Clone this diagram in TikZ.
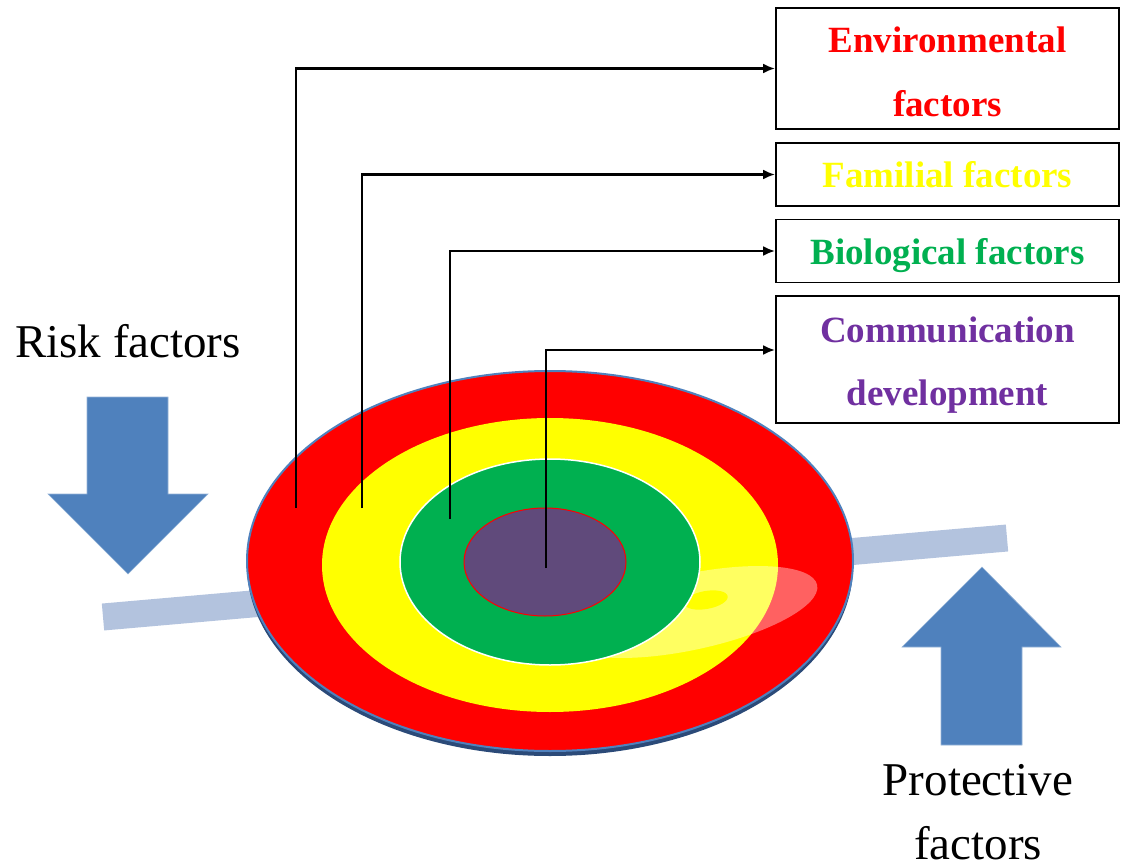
\documentclass[tikz,border=0pt]{standalone}
\usepackage{fontspec}
\setmainfont{Liberation Serif}
\usetikzlibrary{arrows.meta}
\definecolor{arrowblue}{HTML}{4F81BD}
\definecolor{barblue}{HTML}{B3C3DE}
\definecolor{ringred}{HTML}{FF0000}
\definecolor{ringyellow}{HTML}{FFFF00}
\definecolor{ringgreen}{HTML}{00B050}
\definecolor{corepurple}{HTML}{604A7B}
\definecolor{txtpurple}{HTML}{7030A0}
\definecolor{shadowblue}{HTML}{2B4A78}
\begin{document}
\begin{tikzpicture}[x=1pt,y=-1pt,
  factorbox/.style={draw=black, line width=1.8pt, minimum width=343pt, minimum height=#1, inner sep=0pt},
  boxtext/.style={anchor=base, inner sep=0pt, font=\fontsize{37}{44}\selectfont\bfseries},
  bigtext/.style={anchor=base, inner sep=0pt, font=\fontsize{47}{56}\selectfont},
  conn/.style={draw=black, line width=2.2pt, -{Latex[length=12pt,width=10pt]}},
  bigarrow/.style={fill=arrowblue, draw=arrowblue!60!white, line width=0.6pt}]
\useasboundingbox (0,0) rectangle (1128,867);

% tilted bar behind the disc
\draw[barblue, line width=27pt] (103,617) -- (1007,538);

% disc
\fill[shadowblue] (550,566) ellipse [x radius=303, y radius=190];
\fill[ringred, draw=arrowblue, line width=2pt] (550,561) ellipse [x radius=303, y radius=190];
\fill[ringyellow] (550,565) ellipse [x radius=228, y radius=147];
\fill[white, opacity=0.38, rotate around={12:(690,612)}] (690,612) ellipse [x radius=130, y radius=38];
\fill[ringyellow, rotate around={10:(706,600)}] (706,600) ellipse [x radius=22, y radius=9];
\fill[ringgreen, draw=white, line width=1.5pt] (550,562) ellipse [x radius=150, y radius=103];
\fill[corepurple, draw=ringred, line width=1pt] (545,562) ellipse [x radius=81, y radius=54];

% factor boxes
\node[factorbox=121pt] (env) at (947.5,68.5) {};
\node[factorbox=63pt]  (fam) at (947.5,174.5) {};
\node[factorbox=63pt]  (bio) at (947.5,251) {};
\node[factorbox=127pt] (com) at (947.5,359.5) {};

\node[boxtext, text=ringred] (envA) at (947.5,53) {Environmental};
\node[boxtext, text=ringred] (envB) at (947.5,117) {factors};
\node[boxtext, text=ringyellow] (famA) at (947.5,187) {Familial factors};
\node[boxtext, text=ringgreen] (bioA) at (947.5,264) {Biological factors};
\node[boxtext, text=txtpurple] (comA) at (947.5,342) {Communication};
\node[boxtext, text=txtpurple] (comB) at (947.5,405) {development};

% connectors
\coordinate (s1) at (296,508);
\coordinate (s2) at (362,508);
\coordinate (s3) at (450,519);
\coordinate (s4) at (546,568);
\draw[conn] (s1) |- (env.west);
\draw[conn] (s2) |- (fam.west);
\draw[conn] (s3) |- (bio.west);
\draw[conn] (s4) |- ([yshift=9.5pt]com.west);

% big arrows
\fill[bigarrow] (87,397) -- (168,397) -- (168,494) -- (208,494) -- (128,574) -- (48,494) -- (87,494) -- cycle;
\fill[bigarrow] (941,745) -- (1022,745) -- (1022,647) -- (1061,647) -- (982,567) -- (902,647) -- (941,647) -- cycle;

% labels
\node[bigtext] (risk) at (128,357) {Risk factors};
\node[bigtext] (protA) at (978,795) {Protective};
\node[bigtext] (protB) at (978,859) {factors};
\end{tikzpicture}
\end{document}
